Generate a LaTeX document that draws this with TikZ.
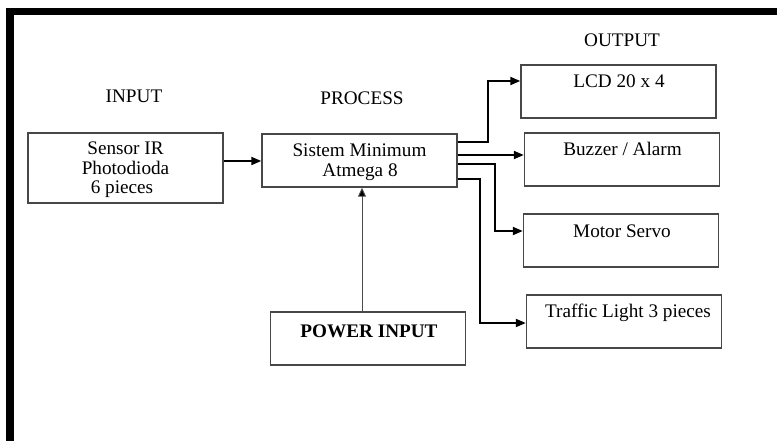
\documentclass[tikz,border=0pt]{standalone}
\usepackage{fontspec}
\setmainfont{Liberation Serif}
\usetikzlibrary{arrows.meta}
\begin{document}
\begin{tikzpicture}[x=1pt,y=-1pt,
  box/.style={draw=black!72,line width=1.4pt,minimum width=195,minimum height=53,inner sep=0pt},
  txt/.style={anchor=base,inner sep=0pt,font=\fontsize{19.2}{23}\selectfont},
  arr/.style={draw=black,line width=1.8pt,-{Triangle[length=10pt,width=8pt]}},
  thinarr/.style={draw=black!70,line width=0.9pt,-{Triangle[length=9pt,width=8pt,fill=black]}}]
\useasboundingbox (0,0) rectangle (777,441);
\fill[white] (0,0) rectangle (777,441);
% frame (top and left only)
\fill[black] (6,8) rectangle (777,15);
\fill[black] (6,8) rectangle (14,441);
% headings
\node[txt] (hin) at (134,103) {INPUT};
\node[txt] (hproc) at (362,105) {PROCESS};
\node[txt] (hout) at (622,47) {OUTPUT};
% boxes
\node[box,minimum height=70] (sensor) at (125.5,168) {};
\node[box] (proc) at (359.5,160.5) {};
\node[box] (lcd) at (618.5,91.5) {};
\node[box] (buzz) at (622,159.5) {};
\node[box] (motor) at (621,240.5) {};
\node[box] (traffic) at (624,321.5) {};
\node[box] (power) at (368,338.5) {};
% texts
\node[txt] (t1) at (125.5,154.5) {Sensor IR};
\node[txt] (t2) at (125.5,174.5) {Photodioda};
\node[txt] (t3) at (122,193.5) {6 pieces};
\node[txt] (t4) at (359.5,157) {Sistem Minimum};
\node[txt] (t5) at (360,177) {Atmega 8};
\node[txt] (t6) at (619,88) {LCD 20 x 4};
\node[txt] (t7) at (622.5,156) {Buzzer / Alarm};
\node[txt] (t8) at (622,237) {Motor Servo};
\node[txt] (t9) at (628,317) {Traffic Light 3 pieces};
\node[txt,font=\fontsize{19.2}{23}\selectfont\bfseries] (t10) at (369,337) {POWER INPUT};
% connectors
\draw[arr] (sensor.east |- 0,161) -- (proc.west |- 0,161);
\draw[arr] (proc.east |- 0,142) -- ++(30,0) |- (lcd.west |- 0,81);
\draw[arr] (proc.east |- 0,155) -- (buzz.west |- 0,155);
\draw[arr] (proc.east |- 0,164) -- ++(37,0) |- (motor.west |- 0,231);
\draw[arr] (proc.east |- 0,179) -- ++(22,0) |- (traffic.west |- 0,323);
\draw[thinarr] (power.north -| 362,0) -- (proc.south -| 362,0);
\end{tikzpicture}
\end{document}
